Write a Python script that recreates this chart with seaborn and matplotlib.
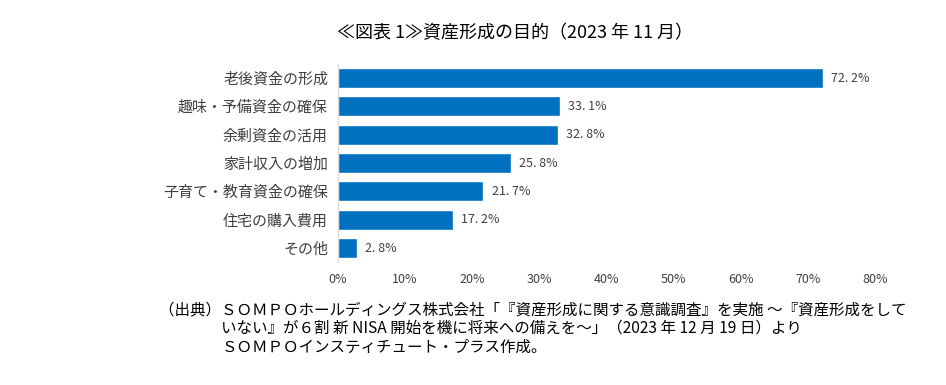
import matplotlib
matplotlib.use('Agg')
import matplotlib.pyplot as plt
import seaborn as sns
import pandas as pd

# --- Data ---
categories = ['老後資金の形成', '趣味・予備資金の確保', '余剰資金の活用', '家計収入の増加',
              '子育て・教育資金の確保', '住宅の購入費用', 'その他']
values = [72.2, 33.1, 32.8, 25.8, 21.7, 17.2, 2.8]
x_ticks = [0, 10, 20, 30, 40, 50, 60, 70, 80]

TITLE = '≪図表 1≫資産形成の目的（2023 年 11 月）'
SOURCE_LINES = [
    '（出典）ＳＯＭＰＯホールディングス株式会社「『資産形成に関する意識調査』を実施 ～『資産形成をして',
    'いない』が６割 新 NISA 開始を機に将来への備えを～」（2023 年 12 月 19 日）より',
    'ＳＯＭＰＯインスティチュート・プラス作成。',
]

sns.set_style('white')
plt.rcParams['font.family'] = ['Noto Sans CJK JP', 'DejaVu Sans']

df = pd.DataFrame({'Category': categories, 'Value': values})

fig = plt.figure(figsize=(9.46, 3.85), dpi=100)
ax = fig.add_axes([0.357, 0.319, 0.568, 0.515])

sns.barplot(data=df, x='Value', y='Category', color='#0070C0', width=0.7,
            saturation=1, ax=ax)

ax.set_xlim(0, 80)
ax.set_xticks(x_ticks)
ax.set_xticklabels([f'{t}%' for t in x_ticks], fontsize=9, color='#404040')
ax.tick_params(axis='x', length=0, pad=8)
ax.tick_params(axis='y', length=0, pad=7, labelsize=10.8, labelcolor='#404040')
ax.set_xlabel('')
ax.set_ylabel('')

for s in ['top', 'right', 'bottom']:
    ax.spines[s].set_visible(False)
ax.spines['left'].set_color('#d9d9d9')
ax.spines['left'].set_linewidth(0.8)

for i, v in enumerate(values):
    ax.text(v + 1.2, i, f'{v:.1f}%'.replace('.', '. '), va='center', ha='left',
            fontsize=9, color='#404040')

fig.text(0.544, 0.915, TITLE, ha='center', va='center', fontsize=13, color='#000000')

y0 = 0.195
for k, line in enumerate(SOURCE_LINES):
    x = 0.168 if k == 0 else 0.234
    fig.text(x, y0 - k * 0.048, line, ha='left', va='center', fontsize=11.2, color='#000000')

fig.savefig('out.png', dpi=100)
